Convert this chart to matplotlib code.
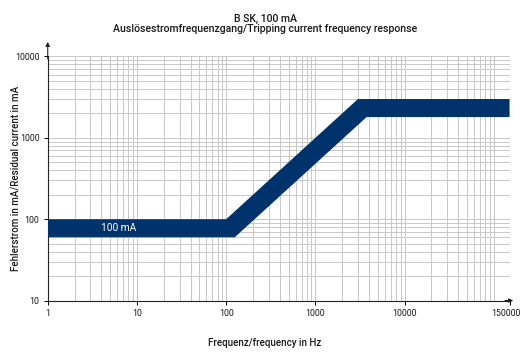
import matplotlib
matplotlib.use("Agg")
import matplotlib.pyplot as plt
import matplotlib.transforms as mtransforms
from matplotlib.ticker import FixedLocator, LogLocator, NullFormatter

# ---- data ----
upper_freq = [1, 100, 3000, 150000]
upper_current = [100, 100, 3000, 3000]
lower_freq = [1, 125, 3750, 150000]
lower_current = [60, 60, 1800, 1800]
x_ticks = [1, 10, 100, 1000, 10000, 150000]
x_tick_labels = ["1", "10", "100", "1000", "10000", "150000"]
y_ticks = [10, 100, 1000, 10000]
y_tick_labels = ["10", "100", "1000", "10000"]
band_label = "100 mA"
band_label_pos = (6.2, 77)
title_1 = "B SK, 100 mA"
title_2 = "Auslösestromfrequenzgang/Tripping current frequency response"
x_label = "Frequenz/frequency in Hz"
y_label = "Fehlerstrom in mA/Residual current in mA"

plt.rcParams['font.family'] = ['Roboto', 'DejaVu Sans']
text_color = '#1a1a1a'
band_color = '#00336b'
grid_color = '#c8c8c8'

fig = plt.figure(figsize=(5.21, 3.54), dpi=100)
ax = fig.add_axes([0.0916, 0.151, 0.978 - 0.0916, 0.8404 - 0.151])
ax.set_xscale('log')
ax.set_yscale('log')
ax.set_xlim(1, 150000)
ax.set_ylim(10, 10000)

poly_x = upper_freq + lower_freq[::-1]
poly_y = upper_current + lower_current[::-1]
ax.fill(poly_x, poly_y, color=band_color, lw=0, zorder=3)
ax.text(band_label_pos[0], band_label_pos[1], band_label, color='white',
        fontsize=7.3, ha='center', va='center', zorder=4)

ax.xaxis.set_major_locator(FixedLocator(x_ticks))
ax.set_xticklabels(x_tick_labels)
ax.xaxis.set_minor_locator(LogLocator(base=10, subs=range(2, 11), numticks=20))
ax.xaxis.set_minor_formatter(NullFormatter())
ax.yaxis.set_major_locator(FixedLocator(y_ticks))
ax.set_yticklabels(y_tick_labels)
ax.yaxis.set_minor_locator(LogLocator(base=10, subs=range(2, 10), numticks=20))
ax.yaxis.set_minor_formatter(NullFormatter())

ax.grid(True, which='both', color=grid_color, lw=0.7, zorder=1)
ax.set_axisbelow(True)
ax.tick_params(which='major', length=3, width=0.7, color='k', labelsize=6.3,
               labelcolor=text_color, pad=3)
ax.tick_params(which='minor', length=0)

# shift last x tick label slightly left so it fits
last = ax.get_xticklabels()[-1]
last.set_transform(last.get_transform() +
                   mtransforms.ScaledTranslation(-4 / 100, 0, fig.dpi_scale_trans))

for s in ['top', 'right']:
    ax.spines[s].set_visible(False)
for s in ['left', 'bottom']:
    ax.spines[s].set_linewidth(0.8)
    ax.spines[s].set_color('#222222')

ax.annotate('', xy=(0, 1.06), xytext=(0, 0.99), xycoords='axes fraction',
            arrowprops=dict(arrowstyle='-|>', lw=0.8, color='#222222',
                            mutation_scale=6, shrinkA=0, shrinkB=0))
ax.annotate('', xy=(1.008, 0), xytext=(0.99, 0), xycoords='axes fraction',
            arrowprops=dict(arrowstyle='-|>', lw=0.8, color='#222222',
                            mutation_scale=6, shrinkA=0, shrinkB=0))

ax.set_xlabel(x_label, fontsize=7, color=text_color, va='top', fontweight='medium')
ax.xaxis.set_label_coords(0.470, -0.154)
ax.set_ylabel(y_label, fontsize=7, color=text_color, va='center', fontweight='medium')
ax.yaxis.set_label_coords(-0.0708, 0.5)

fig.text(265 / 521, 1 - 21.7 / 354, title_1, fontsize=7.6, ha='center',
         va='baseline', color=text_color, fontweight='medium')
fig.text(265 / 521, 1 - 32 / 354, title_2, fontsize=7.6, ha='center',
         va='baseline', color=text_color, fontweight='medium')

fig.savefig('out.png', dpi=100)
